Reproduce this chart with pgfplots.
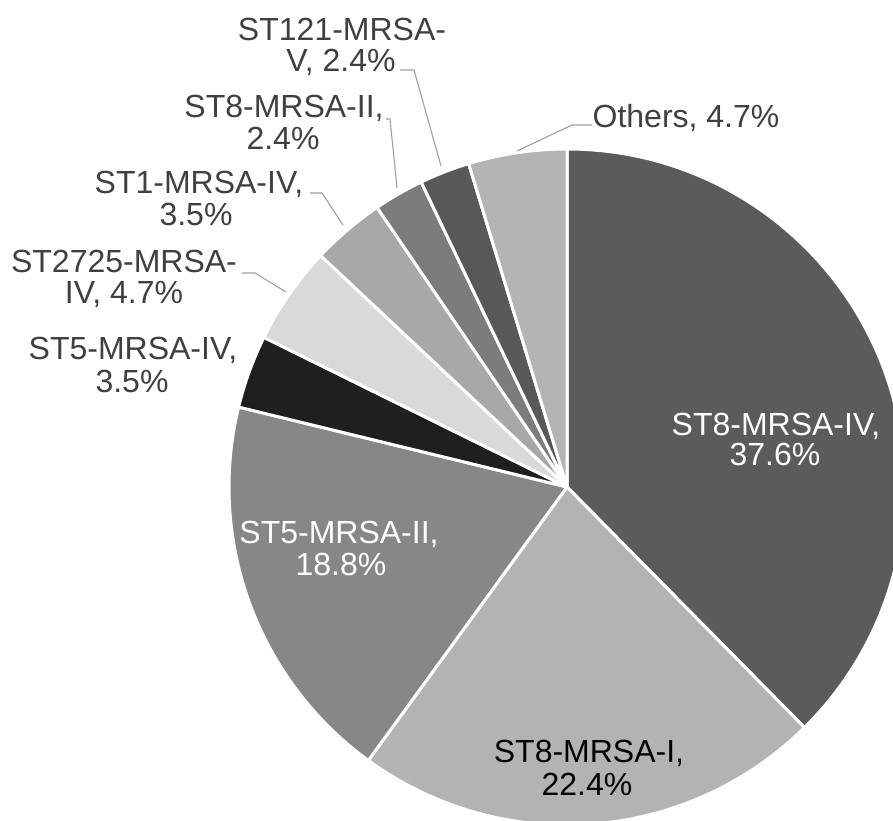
\documentclass[border=0pt]{standalone}
\usepackage{pgfplots}
\pgfplotsset{compat=1.18}
\usepackage{pgfplotstable}
\usepackage{fontspec}
\setmainfont{Liberation Sans}

\definecolor{c0}{HTML}{5B5B5B}
\definecolor{c1}{HTML}{B3B3B3}
\definecolor{c2}{HTML}{878787}
\definecolor{c3}{HTML}{1F1F1F}
\definecolor{c4}{HTML}{D9D9D9}
\definecolor{c5}{HTML}{A8A8A8}
\definecolor{c6}{HTML}{7C7C7C}
\definecolor{c7}{HTML}{585858}
\definecolor{c8}{HTML}{B4B4B4}
\definecolor{txt}{HTML}{404040}
\definecolor{lead}{HTML}{A0A0A0}

% slices in clockwise order from 12 o'clock
\pgfplotstableread{
idx pct
0 37.6
1 22.4
2 18.8
3 3.5
4 4.7
5 3.5
6 2.4
7 2.4
8 4.7
}\piedata

\def\cum{0}%
\pgfplotsforeachungrouped \i in {0,...,8}{%
  \pgfplotstablegetelem{\i}{pct}\of\piedata%
  \pgfmathsetmacro\sang{90-3.6*\cum}%
  \pgfmathsetmacro\cum{\cum+\pgfplotsretval}%
  \pgfmathsetmacro\eang{90-3.6*\cum}%
  \expandafter\xdef\csname sa\i\endcsname{\sang}%
  \expandafter\xdef\csname ea\i\endcsname{\eang}%
}

\newcommand\lab[4]{\node[anchor=base, text=#4, font=\fontsize{16}{19}\selectfont, inner sep=0pt] at (axis cs:#1,#2) {#3};}

\begin{document}
\begin{tikzpicture}
\useasboundingbox (0,0) rectangle (446.5pt,410pt);
\clip (0,0) rectangle (446.5pt,410pt);
\begin{axis}[
  at={(0,0)}, anchor=south west,
  scale only axis, width=446.5pt, height=410pt,
  xmin=0, xmax=893, ymin=0, ymax=820,
  hide axis, clip=true]
\pgfplotsinvokeforeach{0,...,8}{
  \filldraw[fill=c#1, draw=white, line width=1.5pt, line join=round]
    (axis cs:567,333) -- ++(\csname sa#1\endcsname:169pt)
    arc[start angle=\csname sa#1\endcsname, end angle=\csname ea#1\endcsname, radius=169pt] -- cycle;
}
% leader lines
\draw[lead, line width=0.55pt] (axis cs:592,695) -- (axis cs:572,695) -- (axis cs:517,669);
\draw[lead, line width=0.55pt] (axis cs:400,750) -- (axis cs:414,750) -- (axis cs:441,654);
\draw[lead, line width=0.55pt] (axis cs:386,701) -- (axis cs:390,701) -- (axis cs:397,632);
\draw[lead, line width=0.55pt] (axis cs:310,627) -- (axis cs:322,627) -- (axis cs:343,595);
\draw[lead, line width=0.55pt] (axis cs:242,547) -- (axis cs:255,547) -- (axis cs:286,528);
% labels
\lab{342}{779}{ST121-MRSA-}{txt}
\lab{341}{748}{V, 2.4\%}{txt}
\lab{284}{702}{ST8-MRSA-II,}{txt}
\lab{283}{670}{2.4\%}{txt}
\lab{686}{692}{Others, 4.7\%}{txt}
\lab{199}{626}{ST1-MRSA-IV,}{txt}
\lab{196}{594}{3.5\%}{txt}
\lab{124}{547}{ST2725-MRSA-}{txt}
\lab{124}{516}{IV, 4.7\%}{txt}
\lab{133}{460}{ST5-MRSA-IV,}{txt}
\lab{132}{428}{3.5\%}{txt}
\lab{776}{385}{ST8-MRSA-IV,}{white}
\lab{775}{355}{37.6\%}{white}
\lab{339}{277}{ST5-MRSA-II,}{white}
\lab{341}{245}{18.8\%}{white}
\lab{589}{58}{ST8-MRSA-I,}{black}
\lab{587}{25}{22.4\%}{black}
\end{axis}
\end{tikzpicture}
\end{document}
